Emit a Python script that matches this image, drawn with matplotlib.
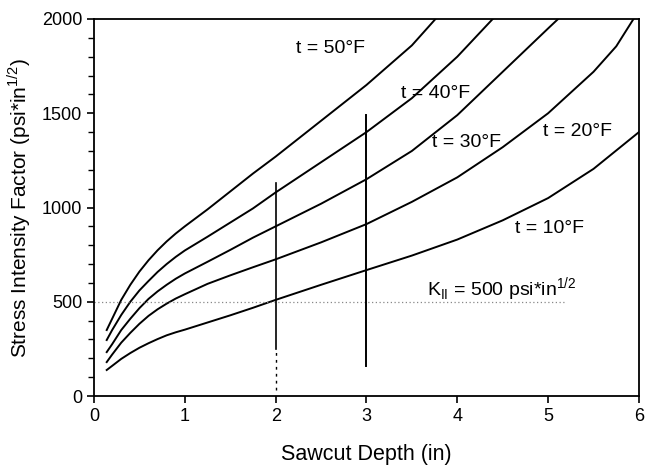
import matplotlib.pyplot as plt
from matplotlib.ticker import MultipleLocator

plt.rcParams['font.family'] = ['Liberation Sans', 'DejaVu Sans']
plt.rcParams['mathtext.fontset'] = 'custom'
plt.rcParams['mathtext.rm'] = 'Liberation Sans'

# values (depth in inches, K in psi*in^1/2)
depth_10F = [0.14, 0.2, 0.3, 0.4, 0.5, 0.6, 0.7, 0.8, 0.9, 1.0, 1.25, 1.5, 1.75, 2.0, 2.5, 3.0,
             3.5, 4.0, 4.5, 5.0, 5.5, 6.0]
k_10F = [138, 160, 197, 228, 256, 280, 302, 322, 338, 352, 390, 428, 468, 510, 590, 668,
         745, 830, 932, 1050, 1205, 1400]

depth_20F = [0.14, 0.2, 0.3, 0.4, 0.5, 0.6, 0.7, 0.8, 0.9, 1.0, 1.25, 1.5, 1.75, 2.0, 2.5, 3.0,
             3.5, 4.0, 4.5, 5.0, 5.5, 5.75, 5.94]
k_20F = [180, 220, 283, 335, 383, 425, 460, 490, 517, 540, 595, 640, 683, 725, 815, 912,
         1030, 1160, 1320, 1500, 1720, 1855, 2000]

depth_30F = [0.14, 0.2, 0.3, 0.4, 0.5, 0.6, 0.7, 0.8, 0.9, 1.0, 1.25, 1.5, 1.75, 2.0, 2.5, 3.0,
             3.5, 4.0, 4.5, 5.0, 5.11]
k_30F = [233, 275, 350, 410, 466, 515, 555, 590, 622, 650, 712, 775, 840, 900, 1020, 1150,
         1300, 1490, 1720, 1950, 2000]

depth_40F = [0.14, 0.2, 0.3, 0.4, 0.5, 0.6, 0.7, 0.8, 0.9, 1.0, 1.25, 1.5, 1.75, 2.0, 2.5, 3.0,
             3.5, 4.0, 4.39]
k_40F = [297, 350, 430, 500, 560, 610, 658, 700, 738, 772, 845, 920, 995, 1080, 1240, 1400,
         1580, 1800, 2000]

depth_50F = [0.14, 0.2, 0.3, 0.4, 0.5, 0.6, 0.7, 0.8, 0.9, 1.0, 1.25, 1.5, 1.75, 2.0, 2.5, 3.0,
             3.5, 3.76]
k_50F = [350, 410, 510, 590, 660, 720, 773, 820, 862, 900, 990, 1085, 1180, 1270, 1460, 1650,
         1860, 2000]

curves = [
    (depth_10F, k_10F, 't = 10°F', 5.02, 891),
    (depth_20F, k_20F, 't = 20°F', 5.32, 1405),
    (depth_30F, k_30F, 't = 30°F', 4.10, 1347),
    (depth_40F, k_40F, 't = 40°F', 3.76, 1607),
    (depth_50F, k_50F, 't = 50°F', 2.60, 1846),
]

k_threshold = 500
threshold_end = 5.2
cut_2in = [30, 1130]
cut_3in = [160, 1490]

fig = plt.figure(figsize=(6.5, 4.7), dpi=100)
ax = fig.add_axes([0.1446, 0.1574, 0.8384, 0.8022])

for xs, ys, label, lx, ly in curves:
    ax.plot(xs, ys, color='black', lw=1.4, solid_joinstyle='round')
    ax.text(lx, ly, label, fontsize=14, ha='center', va='center')

# K_II = 500 reference line
ax.plot([0, threshold_end], [k_threshold, k_threshold], color='#888888', lw=0.9, ls=(0, (1, 2)))
ax.text(3.67, 565, r'K$_{\mathregular{II}}$ = 500 psi*in$^{\mathregular{1/2}}$', fontsize=14,
        ha='left', va='center')

# sawcut depth markers
ax.plot([2, 2], [250, cut_2in[1]], color='black', lw=1.2)
ax.plot([2, 2], [cut_2in[0], 250], color='black', lw=1.0, ls=(0, (2, 3)))
ax.plot([3, 3], cut_3in, color='black', lw=1.4)

ax.set_xlim(0, 6)
ax.set_ylim(0, 2000)
ax.xaxis.set_major_locator(MultipleLocator(1))
ax.yaxis.set_major_locator(MultipleLocator(500))
ax.yaxis.set_minor_locator(MultipleLocator(100))
ax.tick_params(axis='both', which='major', labelsize=13, length=5, width=1.2, direction='out')
ax.tick_params(axis='y', which='minor', length=4, width=1.0, direction='out')
for s in ax.spines.values():
    s.set_linewidth(1.3)

ax.set_xlabel('Sawcut Depth (in)', fontsize=15.5, labelpad=14)
ax.set_ylabel(r'Stress Intensity Factor (psi*in$^{\mathregular{1/2}}$)', fontsize=15, labelpad=6)

fig.savefig('out.png', dpi=100)
